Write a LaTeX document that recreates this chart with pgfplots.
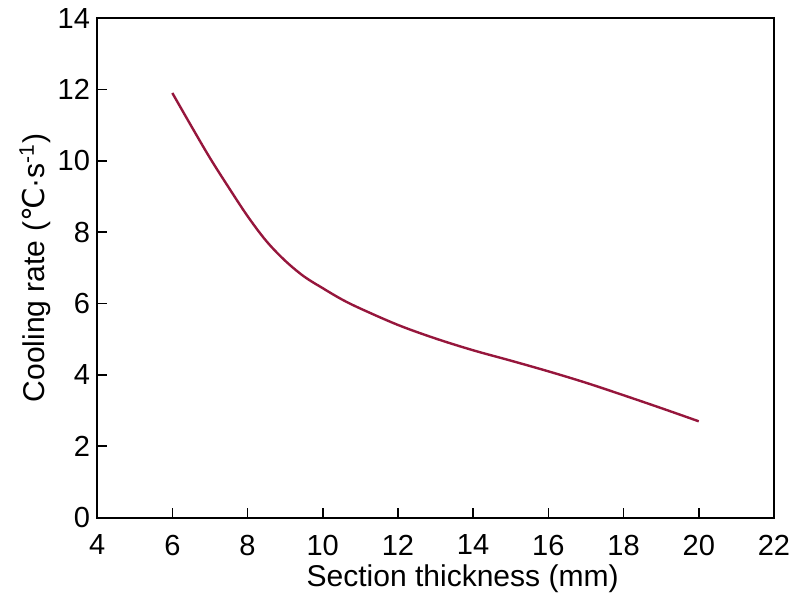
\documentclass[border=0pt]{standalone}
\usepackage{fontspec}
\setmainfont{Liberation Sans}
\newfontfamily\dejavu{DejaVu Sans}
\usepackage{pgfplots}
\pgfplotsset{compat=1.18}
\definecolor{curvecol}{RGB}{150,22,60}
\begin{document}
\begin{tikzpicture}
\begin{axis}[
  at={(0,0)}, anchor=south west,
  scale only axis, width=338pt, height=249.5pt,
  xmin=4, xmax=22, ymin=0, ymax=14,
  xtick={4,6,...,22}, ytick={0,2,...,14},
  tick pos=left, tick align=inside,
  major tick length=5pt,
  axis line style={line width=1pt},
  every tick/.style={line width=0.8pt, black},
  /pgf/number format/assume math mode=true,
  tick label style={font=\fontsize{14.5}{17}\selectfont},
  xticklabel style={yshift=-5pt},
  label style={font=\fontsize{15}{18}\selectfont},
  xlabel={Section thickness (mm)},
  ylabel={Cooling rate ({\dejavu ℃}·s\textsuperscript{-1})},
  xlabel style={at={(axis description cs:0.54,0)}, anchor=center, yshift=-30.5pt},
  ylabel style={at={([xshift=-31pt]axis description cs:0,0.5)}, anchor=center},
]
\addplot[curvecol, line width=1.2pt, smooth, tension=0.55] coordinates {
(6,11.9) (6.5,10.98) (7,10.08) (7.5,9.25) (8,8.45) (8.5,7.75) (9,7.2)
(9.5,6.76) (10,6.43) (10.5,6.12) (11,5.86) (12,5.4) (13,5.02) (14,4.69)
(15,4.4) (16,4.1) (17,3.78) (18,3.43) (19,3.07) (20,2.7)
};
\end{axis}
\pgfresetboundingbox
\path[use as bounding box] (-48.5pt,-42.5pt) rectangle (351.5pt,258.5pt);
\end{tikzpicture}
\end{document}
